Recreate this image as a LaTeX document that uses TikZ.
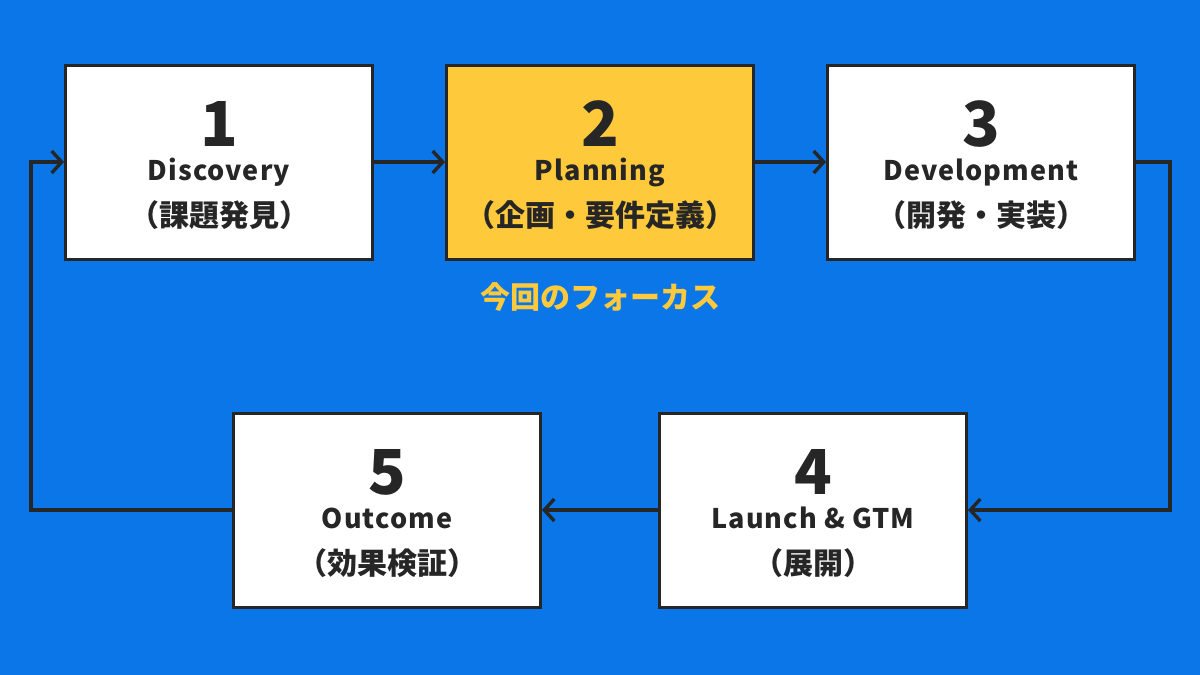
\documentclass[tikz,border=0pt]{standalone}
\usepackage{fontspec}
\setmainfont{Noto Sans CJK JP}[BoldFont={Noto Sans CJK JP Black}]
\newfontfamily\jpfont{Noto Sans CJK JP}[BoldFont={Noto Sans CJK JP Black}]
\usetikzlibrary{arrows.meta}
\definecolor{bgblue}{HTML}{0A76E8}
\definecolor{focusyellow}{HTML}{FFC93C}
\definecolor{inkdark}{HTML}{262626}
\tikzset{
  stepbox/.style={draw=inkdark, line width=3pt, fill=white, minimum width=307pt, minimum height=194pt, inner sep=0pt},
  focusbox/.style={stepbox, fill=focusyellow},
  numtxt/.style={anchor=base, inner sep=0pt, text=inkdark, font=\bfseries\fontsize{62}{62}\selectfont},
  entxt/.style={anchor=base, inner sep=0pt, text=inkdark, font=\bfseries\fontsize{27}{27}\selectfont\addfontfeatures{LetterSpace=4}},
  jptxt/.style={anchor=base, inner sep=0pt, text=inkdark, font=\jpfont\bfseries\fontsize{30}{30}\selectfont},
  flow/.style={draw=inkdark, line width=3.4pt, line cap=round, line join=miter, -{Straight Barb[length=10pt, width=22pt, line width=3.4pt]}}
}
\begin{document}
\begin{tikzpicture}[x=1pt, y=-1pt]
\fill[bgblue] (0,0) rectangle (1200,675);
\useasboundingbox (0,0) rectangle (1200,675);

\node[stepbox]  (b1) at (219,162) {};
\node[focusbox] (b2) at (600,162) {};
\node[stepbox]  (b3) at (981,162) {};
\node[stepbox]  (b4) at (813,510) {};
\node[stepbox]  (b5) at (387,510) {};

\node[numtxt] (b1n) at ([yshift=16pt]b1.center) {1};
\node[entxt]  (b1e) at ([yshift=-18pt]b1.center) {Discovery};
\node[jptxt]  (b1j) at ([yshift=-64pt]b1.center) {（課題発見）};

\node[numtxt] (b2n) at ([yshift=16pt]b2.center) {2};
\node[entxt]  (b2e) at ([yshift=-18pt]b2.center) {Planning};
\node[jptxt]  (b2j) at ([yshift=-64pt]b2.center) {（企画・要件定義）};

\node[numtxt] (b3n) at ([yshift=16pt]b3.center) {3};
\node[entxt]  (b3e) at ([yshift=-18pt]b3.center) {Development};
\node[jptxt]  (b3j) at ([yshift=-64pt]b3.center) {（開発・実装）};

\node[numtxt] (b4n) at ([yshift=16pt]b4.center) {4};
\node[entxt]  (b4e) at ([yshift=-18pt]b4.center) {Launch \& GTM};
\node[jptxt]  (b4j) at ([yshift=-64pt]b4.center) {（展開）};

\node[numtxt] (b5n) at ([yshift=16pt]b5.center) {5};
\node[entxt]  (b5e) at ([yshift=-18pt]b5.center) {Outcome};
\node[jptxt]  (b5j) at ([yshift=-64pt]b5.center) {（効果検証）};

\node[jptxt, text=focusyellow] (focus) at (600,308) {今回のフォーカス};

\coordinate (rt) at (1170,162);
\coordinate (rb) at (1170,510);
\coordinate (lb) at (31,510);
\coordinate (lt) at (31,162);

\draw[flow] (b1.east) -- (b2.west);
\draw[flow] (b2.east) -- (b3.west);
\draw[flow] (b3.east) -- (rt) -- (rb) -- (b4.east);
\draw[flow] (b4.west) -- (b5.east);
\draw[flow] (b5.west) -- (lb) -- (lt) -- (b1.west);
\end{tikzpicture}
\end{document}
